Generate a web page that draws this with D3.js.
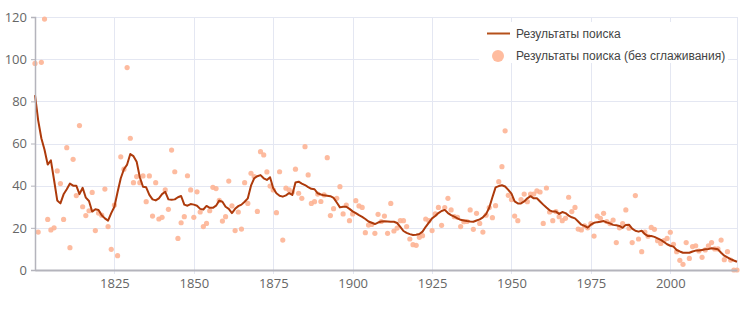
<!DOCTYPE html>
<html>
<head>
<meta charset="utf-8">
<script src="https://cdn.jsdelivr.net/npm/d3@7"></script>
<style>
  body { margin: 0; background: #fff; }
  text { font-family: "Open Sans", sans-serif; }
</style>
</head>
<body>
<div id="chart"></div>
<script>
// years 1800..2021
var firstYear = 1800, lastYear = 2021;
var years = d3.range(firstYear, lastYear + 1);

// raw yearly values (dots)
var rawValues = [
  98, 18, 98.5, 119, 24, 19, 20, 47, 41, 24,
  58, 10.6, 52.5, 35.3, 68.5, 30, 25.8, 28.1, 36.8, 18.7,
  27, 26, 38.4, 20.6, 9.8, 30.8, 6.8, 53.7, 47.8, 96,
  62.5, 41.4, 44.3, 41.4, 44.6, 32.4, 44.6, 25.6, 41.4, 24.2,
  25, 38, 28.8, 56.9, 46.6, 15, 22.4, 25.3, 44.7, 38,
  25, 37.1, 27.5, 20.6, 22.1, 28.1, 39.2, 38.6, 33, 23.2,
  25.3, 42.2, 30.4, 18.7, 27.5, 19.4, 41.4, 31.6, 45.9, 44.3,
  27.8, 56.1, 54.6, 46.5, 39.8, 38, 27.2, 46.6, 14.2, 38.8,
  38, 37, 47.8, 36.4, 34, 58.5, 45.1, 31.6, 32.4, 36,
  32.5, 35.6, 53.3, 25.8, 29.1, 34, 39.5, 26.6, 30.8, 23.4,
  26.6, 32.9, 30.4, 29.7, 17.7, 21.3, 21.6, 17.4, 26.4, 23,
  25.6, 17.4, 31.6, 18.5, 19.9, 23.4, 23.4, 20.6, 14.7, 12,
  11.7, 15.5, 16.3, 24.2, 23.4, 18.7, 26.6, 29.7, 21.2, 29.6,
  34, 28.5, 25.3, 25, 20.6, 22.9, 23, 28.5, 19.3, 26.9,
  22.1, 18, 26, 29.6, 24.8, 30.5, 41.9, 49, 66, 35.4,
  33.4, 25.6, 23.4, 33.4, 36, 32.4, 36, 36, 37.5, 37,
  22.1, 38.9, 27.5, 23.4, 27.7, 25.3, 23.4, 24.5, 34.5, 27.7,
  29.7, 19.4, 19, 21, 20, 22, 16.1, 25.6, 24.5, 26.9,
  23, 22, 23.7, 13, 20, 22, 28.5, 19.8, 13, 35.3,
  14.7, 8.7, 18, 16, 20.2, 19.3, 13.9, 12.6, 14, 15,
  17.9, 12.2, 8.7, 4.6, 2.7, 13, 5.5, 11.1, 11.5, 9,
  6, 9.5, 11.5, 13, 10, 10, 14.2, 4.9, 8.7, 4.7,
  0, 0
];

// smoothed values (line)
var smoothValues = [
  83, 71, 62.5, 57, 50, 52, 42.7, 33, 31.6, 35.9,
  38.3, 41, 40, 40, 36, 39, 34.3, 32.7, 27.7, 28.8,
  28.5, 26, 24.5, 23.4, 27, 30, 37, 43.5, 47.8, 50,
  55, 54, 51.4, 44, 39.5, 39.2, 35.6, 33.5, 33, 34,
  36, 37.1, 33.5, 33.3, 33.5, 34.5, 35.1, 31, 30.5, 31.3,
  31, 30.5, 29, 28.7, 30.4, 29.5, 29.5, 30.5, 32.9, 32.4,
  30, 29, 27, 29, 30.3, 31, 32.4, 34, 40, 43.5,
  44.5, 45, 43.5, 42.7, 44, 38.8, 36.4, 35.2, 34.8, 35.4,
  36.5, 35.6, 41.5, 41.9, 41, 40.3, 39.3, 38.5, 38.3, 36.4,
  35.8, 35.4, 35.2, 35, 34.2, 32, 29.7, 30, 30, 29,
  27.8, 27, 26, 25.2, 24.2, 23, 22.4, 21.8, 22.5, 23,
  23.1, 23, 22.9, 22.9, 22.3, 20.5, 18.5, 17.6, 17, 16.6,
  16.7, 17.1, 18.2, 20.5, 22.5, 24.5, 25.6, 27, 28, 28.5,
  27, 26, 25.3, 24.5, 23.8, 23.5, 23.2, 23, 22.9, 23.5,
  24, 25, 26.5, 29.5, 34.5, 39.2, 39.8, 40.2, 39.6, 38,
  36.2, 32.5, 31.6, 31.6, 32.5, 34, 35, 34, 34, 32.5,
  31, 29.6, 28.3, 27.7, 27.7, 26.6, 27.5, 27, 25.8, 25,
  24.5, 23, 21.5, 20.9, 20.1, 21.5, 22.4, 22.7, 22.9, 23.2,
  22.6, 22.1, 21.4, 21.2, 20.9, 20, 21.4, 21.5, 19.6, 18.6,
  18.2, 18.6, 17, 16.1, 16.1, 15.7, 15, 14.3, 13.3, 12.2,
  11.5, 11.1, 9.5, 8.8, 8.2, 8.2, 8.2, 8.8, 9.2, 9.2,
  9.5, 9.8, 10, 10.3, 10.1, 9.8, 8.2, 6.8, 6, 5.2,
  4.5, 3.9
];

var xTicks = [1825, 1850, 1875, 1900, 1925, 1950, 1975, 2000];
var yTicks = [0, 20, 40, 60, 80, 100, 120];
var legendLabels = ["Результаты поиска", "Результаты поиска (без сглаживания)"];

var W = 751, H = 310;
var plotL = 35, plotR = 737, plotT = 17, plotB = 270;
var lineColor = "#ad3a0b", dotColor = "#fdb495";

var svg = d3.select("#chart").append("svg").attr("width", W).attr("height", H);

var x = d3.scaleLinear().domain([firstYear, lastYear]).range([plotL, plotR]);
var y = d3.scaleLinear().domain([0, 120]).range([plotB, plotT]);

var data = years.map(function (yr, i) { return {year: yr, raw: rawValues[i], smooth: smoothValues[i]}; });

// grid
var grid = svg.append("g").attr("stroke", "#e4e7f2").attr("stroke-width", 1);
grid.selectAll(".gy").data(yTicks.slice(1)).enter().append("line")
  .attr("x1", plotL).attr("x2", plotR)
  .attr("y1", function (d) { return Math.round(y(d)) + 0.5; })
  .attr("y2", function (d) { return Math.round(y(d)) + 0.5; });
grid.selectAll(".gx").data(xTicks).enter().append("line")
  .attr("y1", plotT).attr("y2", plotB + 4)
  .attr("x1", function (d) { return Math.round(x(d)) + 0.5; })
  .attr("x2", function (d) { return Math.round(x(d)) + 0.5; });
grid.append("line").attr("x1", plotR + 0.5).attr("x2", plotR + 0.5).attr("y1", plotT).attr("y2", plotB);

// dots
svg.append("g").selectAll("circle").data(data).enter().append("circle")
  .attr("cx", function (d) { return x(d.year); })
  .attr("cy", function (d) { return y(d.raw); })
  .attr("r", 2.6)
  .attr("fill", dotColor)
  .attr("opacity", 0.9);

// smoothed line
var line = d3.line().x(function (d) { return x(d.year); }).y(function (d) { return y(d.smooth); });
svg.append("path").datum(data)
  .attr("d", line)
  .attr("fill", "none")
  .attr("stroke", lineColor)
  .attr("stroke-width", 2)
  .attr("stroke-linejoin", "round");

// axes
var yAxis = d3.axisLeft(y).tickValues(yTicks).tickSize(4).tickPadding(4);
var gy = svg.append("g").attr("transform", "translate(" + plotL + ",0)").call(yAxis);
gy.select(".domain").attr("stroke", "#b4b4bc").attr("stroke-width", 1.5);
gy.selectAll(".tick line").attr("stroke", "#b4b4bc");
gy.selectAll(".tick text").attr("fill", "#666").style("font-size", "13px").style("font-family", "Open Sans");

var xAxis = d3.axisBottom(x).tickValues(xTicks).tickFormat(d3.format("d")).tickSize(0).tickPadding(9);
var gx = svg.append("g").attr("transform", "translate(0," + plotB + ")").call(xAxis);
gx.select(".domain").attr("stroke", "#b4b4bc").attr("stroke-width", 2);
gx.selectAll(".tick text").attr("fill", "#666").style("font-size", "13px").style("font-family", "Open Sans");

// legend
var lg = svg.append("g");
lg.append("rect").attr("x", 479).attr("y", 22).attr("width", 249).attr("height", 41).attr("fill", "#fff");
lg.append("line").attr("x1", 487).attr("x2", 510).attr("y1", 33.5).attr("y2", 33.5)
  .attr("stroke", "#b5501a").attr("stroke-width", 2);
lg.append("circle").attr("cx", 498).attr("cy", 56).attr("r", 6).attr("fill", "#ffbc9f");
lg.selectAll("text.lbl").data(legendLabels).enter().append("text")
  .attr("x", 516)
  .attr("y", function (d, i) { return i === 0 ? 33.5 : 56; })
  .attr("dy", "0.35em")
  .attr("fill", "#444")
  .style("font-family", "Liberation Sans, Arial, sans-serif")
  .style("font-size", "12px")
  .text(function (d) { return d; });
</script>
</body>
</html>
